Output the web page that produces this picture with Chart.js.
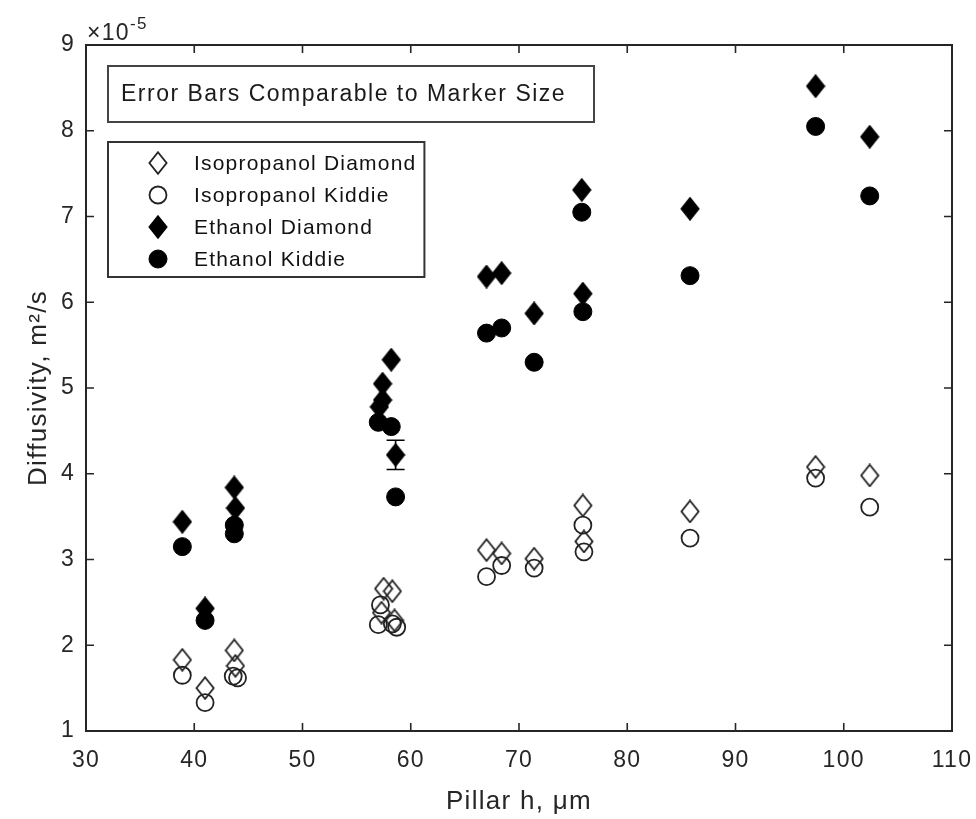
<!DOCTYPE html>
<html>
<head>
<meta charset="utf-8">
<script src="https://cdn.jsdelivr.net/npm/chart.js@4.4.1/dist/chart.umd.min.js"></script>
<style>
html, body { margin: 0; padding: 0; background: #fff; }
</style>
</head>
<body>
<canvas id="myChart" width="976" height="819"></canvas>
<script>
// values in units of 1e-5 m^2/s
const isoDiamondX = [38.9, 41.0, 43.7, 43.8, 57.5, 58.3, 57.3, 58.5, 67.0, 68.4, 71.4, 75.9, 76.0, 85.8, 97.4, 102.4]
const isoDiamondY = [1.83, 1.50, 1.94, 1.76, 2.66, 2.63, 2.38, 2.29, 3.11, 3.07, 3.01, 3.63, 3.21, 3.56, 4.08, 3.98]
const isoKiddieX = [38.9, 41.0, 43.6, 44.0, 57.2, 57.0, 58.3, 58.7, 67.0, 68.4, 71.4, 75.9, 76.0, 85.8, 97.4, 102.4]
const isoKiddieY = [1.65, 1.33, 1.64, 1.62, 2.47, 2.24, 2.25, 2.21, 2.80, 2.93, 2.90, 3.40, 3.09, 3.25, 3.95, 3.61]
const ethDiamondX = [38.9, 41.0, 43.7, 43.8, 57.4, 57.4, 57.1, 58.2, 58.6, 67.0, 68.4, 71.4, 75.8, 75.9, 85.8, 97.4, 102.4]
const ethDiamondY = [3.44, 2.43, 3.84, 3.60, 5.05, 4.86, 4.78, 5.33, 4.22, 6.30, 6.34, 5.87, 7.31, 6.10, 7.09, 8.52, 7.93]
const ethKiddieX = [38.9, 41.0, 43.7, 43.7, 57.0, 58.2, 58.6, 67.0, 68.4, 71.4, 75.8, 75.9, 85.8, 97.4, 102.4]
const ethKiddieY = [3.15, 2.29, 3.40, 3.30, 4.60, 4.55, 3.73, 5.64, 5.70, 5.30, 7.05, 5.89, 6.31, 8.05, 7.24]

// one error bar example
const errX = [58.6]
const errY = [4.22]
const errD = [0.17]

const xTicks = [30, 40, 50, 60, 70, 80, 90, 100, 110]
const yTicks = [1, 2, 3, 4, 5, 6, 7, 8, 9]
const labels = ['Isopropanol Diamond', 'Isopropanol Kiddie', 'Ethanol Diamond', 'Ethanol Kiddie']
const boxText = 'Error Bars Comparable to Marker Size'

const FONT = '"Liberation Sans", Arial, Helvetica, sans-serif'
const AXIS = '#262626'

const toPoints = (xs, ys) => xs.map((x, i) => ({x: x, y: ys[i]}))

const makeDiamond = (filled) => {
    const c = document.createElement('canvas')
    c.width = 20
    c.height = 24
    const g = c.getContext('2d')
    g.beginPath()
    g.moveTo(10, 1.2)
    g.lineTo(18.6, 12)
    g.lineTo(10, 22.8)
    g.lineTo(1.4, 12)
    g.closePath()
    if (filled) {
        g.fillStyle = '#000'
        g.fill()
    }
    g.lineWidth = 1.8
    g.strokeStyle = filled ? '#000' : '#222'
    g.stroke()
    return c
}
const openDiamond = makeDiamond(false)
const fullDiamond = makeDiamond(true)

const drawMarker = (ctx, ds, x, y) => {
    if (ds.pointStyle instanceof HTMLCanvasElement) {
        ctx.drawImage(ds.pointStyle, x - ds.pointStyle.width / 2, y - ds.pointStyle.height / 2)
    } else {
        ctx.beginPath()
        ctx.arc(x, y, ds.pointRadius, 0, Math.PI * 2)
        if (ds.backgroundColor !== 'transparent') {
            ctx.fillStyle = ds.backgroundColor
            ctx.fill()
        }
        ctx.lineWidth = ds.borderWidth
        ctx.strokeStyle = ds.borderColor
        ctx.stroke()
    }
}

const framePlugin = {
    id: 'frame',
    beforeDraw(chart) {
        chart.ctx.letterSpacing = '1.3px'
    },
    afterDatasetsDraw(chart) {
        const ctx = chart.ctx
        const xs = chart.scales.x, ys = chart.scales.y
        ctx.save()
        ctx.strokeStyle = '#000'
        ctx.lineWidth = 1.6
        errX.forEach((v, i) => {
            const px = xs.getPixelForValue(v)
            const top = ys.getPixelForValue(errY[i] + errD[i])
            const bot = ys.getPixelForValue(errY[i] - errD[i])
            ctx.beginPath()
            ctx.moveTo(px, top); ctx.lineTo(px, bot)
            ctx.moveTo(px - 9, top); ctx.lineTo(px + 9, top)
            ctx.moveTo(px - 9, bot); ctx.lineTo(px + 9, bot)
            ctx.stroke()
        })
        ctx.restore()
    },
    afterDraw(chart) {
        const ctx = chart.ctx
        const a = chart.chartArea
        const xs = chart.scales.x, ys = chart.scales.y
        ctx.save()
        ctx.letterSpacing = '1.3px'
        // axes box with inward ticks
        ctx.strokeStyle = AXIS
        ctx.lineWidth = 2
        ctx.strokeRect(a.left, a.top, a.right - a.left, a.bottom - a.top)
        ctx.lineWidth = 1.6
        ctx.beginPath()
        xTicks.forEach(v => {
            const p = xs.getPixelForValue(v)
            ctx.moveTo(p, a.bottom); ctx.lineTo(p, a.bottom - 8)
            ctx.moveTo(p, a.top); ctx.lineTo(p, a.top + 8)
        })
        yTicks.forEach(v => {
            const p = ys.getPixelForValue(v)
            ctx.moveTo(a.left, p); ctx.lineTo(a.left + 8, p)
            ctx.moveTo(a.right, p); ctx.lineTo(a.right - 8, p)
        })
        ctx.stroke()

        // exponent label
        ctx.fillStyle = AXIS
        ctx.textAlign = 'left'
        ctx.textBaseline = 'alphabetic'
        ctx.font = '23px ' + FONT
        ctx.fillText('\u00d710', a.left + 1, a.top - 5)
        const w = ctx.measureText('\u00d710').width
        ctx.font = '17px ' + FONT
        ctx.fillText('-5', a.left + w + 1, a.top - 16)

        // annotation text box
        ctx.fillStyle = '#fff'
        ctx.fillRect(108, 66, 486, 56)
        ctx.strokeStyle = '#444'
        ctx.lineWidth = 2
        ctx.strokeRect(108, 66, 486, 56)
        ctx.fillStyle = '#1a1a1a'
        ctx.font = '23px ' + FONT
        ctx.letterSpacing = '1.5px'
        ctx.textBaseline = 'middle'
        ctx.fillText(boxText, 121, 95)

        // legend
        ctx.letterSpacing = '1.2px'
        ctx.font = '21px ' + FONT
        let tw = 0
        chart.data.datasets.forEach(ds => { tw = Math.max(tw, ctx.measureText(ds.label).width) })
        const lx = 108, ly = 142, lw = 194 - lx + tw + 8, lh = 135
        ctx.fillStyle = '#fff'
        ctx.fillRect(lx, ly, lw, lh)
        ctx.strokeStyle = '#333'
        ctx.lineWidth = 2
        ctx.strokeRect(lx, ly, lw, lh)
        chart.data.datasets.forEach((ds, i) => {
            const ry = 163 + i * 32
            drawMarker(ctx, ds, 158, ry)
            ctx.fillStyle = '#111'
            ctx.fillText(ds.label, 194, ry + 1)
        })
        ctx.restore()
    }
}

const myChart = () => {
    const ctx = document.getElementById('myChart')
    new Chart(ctx, {
        type: 'scatter',
        data: {
            datasets: [
                {
                    label: labels[0],
                    data: toPoints(isoDiamondX, isoDiamondY),
                    pointStyle: openDiamond,
                    pointRadius: 10,
                    backgroundColor: 'transparent',
                    borderColor: '#222',
                    borderWidth: 1.8
                },
                {
                    label: labels[1],
                    data: toPoints(isoKiddieX, isoKiddieY),
                    pointStyle: 'circle',
                    pointRadius: 8.5,
                    backgroundColor: 'transparent',
                    borderColor: '#222',
                    borderWidth: 1.8
                },
                {
                    label: labels[2],
                    data: toPoints(ethDiamondX, ethDiamondY),
                    pointStyle: fullDiamond,
                    pointRadius: 10,
                    backgroundColor: '#000',
                    borderColor: '#000',
                    borderWidth: 1
                },
                {
                    label: labels[3],
                    data: toPoints(ethKiddieX, ethKiddieY),
                    pointStyle: 'circle',
                    pointRadius: 9,
                    backgroundColor: '#000',
                    borderColor: '#000',
                    borderWidth: 1
                }
            ]
        },
        options: {
            responsive: false,
            animation: false,
            events: [],
            layout: { padding: { top: 45, right: 24, left: 0, bottom: 0 } },
            plugins: { legend: { display: false }, tooltip: { enabled: false } },
            scales: {
                x: {
                    type: 'linear',
                    min: 30,
                    max: 110,
                    afterBuildTicks: s => { s.ticks = xTicks.map(v => ({value: v})) },
                    afterFit: s => { s.height = 88; s.paddingLeft = 0; s.paddingRight = 0 },
                    grid: { display: false, drawTicks: false },
                    border: { display: false },
                    ticks: { padding: 16, color: AXIS, font: { family: FONT, size: 23 } },
                    title: { display: true, text: 'Pillar h, \u03bcm', color: AXIS,
                        font: { family: FONT, size: 26 }, padding: { top: 0, bottom: 2 } }
                },
                y: {
                    type: 'linear',
                    min: 1,
                    max: 9,
                    afterBuildTicks: s => { s.ticks = yTicks.map(v => ({value: v})) },
                    afterFit: s => { s.width = 86; s.paddingTop = 0; s.paddingBottom = 0 },
                    grid: { display: false, drawTicks: false },
                    border: { display: false },
                    ticks: { padding: 11, color: AXIS, font: { family: FONT, size: 23 } },
                    title: { display: true, text: 'Diffusivity, m\u00b2/s', color: AXIS,
                        font: { family: FONT, size: 26 }, padding: { top: 23, bottom: 0 } }
                }
            }
        },
        plugins: [framePlugin]
    })
}
myChart()
</script>
</body>
</html>
